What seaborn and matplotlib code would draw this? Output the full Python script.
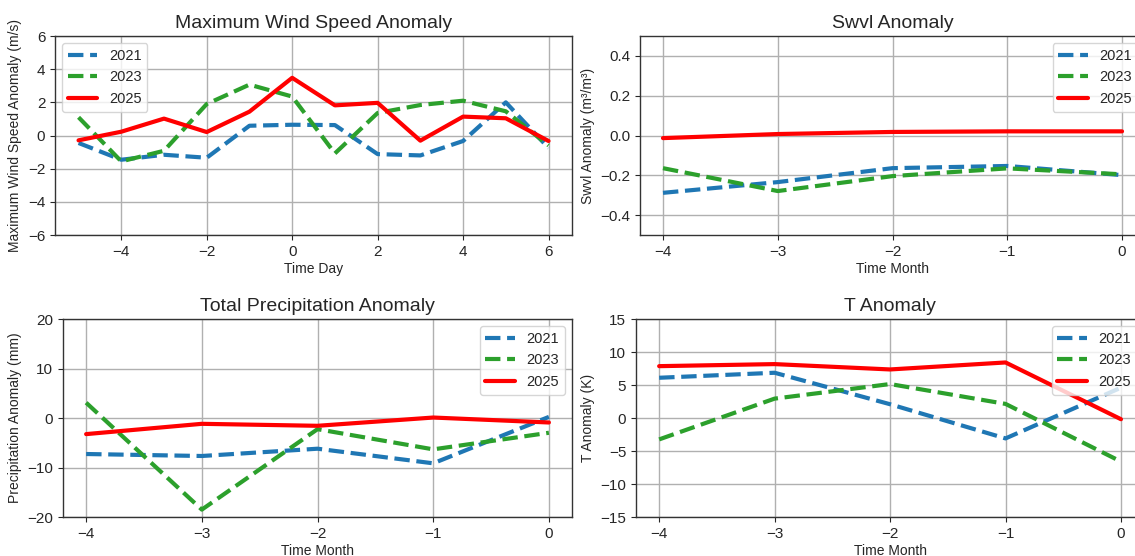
import numpy as np
import pandas as pd
import seaborn as sns
import matplotlib.pyplot as plt

# x axes
days = [-5, -4, -3, -2, -1, 0, 1, 2, 3, 4, 5, 6]
months = [-4, -3, -2, -1, 0]
years = ["2021", "2023", "2025"]

# Maximum wind speed anomaly (m/s), by day
wind_2021 = [-0.45, -1.46, -1.16, -1.34, 0.59, 0.65, 0.63, -1.12, -1.2, -0.33, 2.0, -0.75]
wind_2023 = [1.1, -1.56, -0.92, 1.9, 3.07, 2.35, -1.08, 1.36, 1.84, 2.1, 1.46, -0.6]
wind_2025 = [-0.29, 0.23, 1.02, 0.21, 1.44, 3.48, 1.82, 1.97, -0.31, 1.14, 1.04, -0.33]

# Swvl anomaly (m3/m3), by month
swvl_2021 = [-0.288, -0.234, -0.164, -0.153, -0.199]
swvl_2023 = [-0.164, -0.279, -0.204, -0.165, -0.195]
swvl_2025 = [-0.013, 0.0075, 0.018, 0.021, 0.021]

# Total precipitation anomaly (mm), by month
prec_2021 = [-7.27, -7.67, -6.2, -9.15, 0.23]
prec_2023 = [3.1, -18.5, -2.25, -6.33, -2.98]
prec_2025 = [-3.25, -1.17, -1.57, 0.1, -0.9]

# T anomaly (K), by month
t_2021 = [6.1, 6.86, 2.09, -3.09, 4.6]
t_2023 = [-3.24, 2.94, 5.15, 2.14, -6.6]
t_2025 = [7.86, 8.17, 7.36, 8.42, -0.18]

sns.set_style("ticks")
plt.rcParams['font.family'] = ['Liberation Sans', 'DejaVu Sans']
plt.rcParams['axes.edgecolor'] = '#333333'
plt.rcParams['xtick.major.size'] = 3.5
plt.rcParams['ytick.major.size'] = 3.5
plt.rcParams['axes.linewidth'] = 1.0

styles = {"2021": ("#1f77b4", "--"), "2023": ("#2ca02c", "--"), "2025": ("red", "-")}

fig = plt.figure(figsize=(11.35, 5.56), dpi=100)
ax1 = fig.add_axes([0.0485, 0.5773, 0.4555, 0.3579])
ax2 = fig.add_axes([0.5639, 0.5773, 0.4449, 0.3579])
ax3 = fig.add_axes([0.0555, 0.0701, 0.4485, 0.3561])
ax4 = fig.add_axes([0.5604, 0.0701, 0.4476, 0.3561])

panels = [
    (ax1, days, [wind_2021, wind_2023, wind_2025], "Maximum Wind Speed Anomaly",
     "Time Day", "Maximum Wind Speed Anomaly (m/s)", (-6, 6), np.arange(-6, 7, 2), "upper left"),
    (ax2, months, [swvl_2021, swvl_2023, swvl_2025], "Swvl Anomaly",
     "Time Month", "Swvl Anomaly (m³/m³)", (-0.5, 0.5), [-0.4, -0.2, 0.0, 0.2, 0.4], "upper right"),
    (ax3, months, [prec_2021, prec_2023, prec_2025], "Total Precipitation Anomaly",
     "Time Month", "Precipitation Anomaly (mm)", (-20, 20), np.arange(-20, 21, 10), "upper right"),
    (ax4, months, [t_2021, t_2023, t_2025], "T Anomaly",
     "Time Month", "T Anomaly (K)", (-15, 15), np.arange(-15, 16, 5), "upper right"),
]

for ax, xs, series, title, xlabel, ylabel, ylim, yticks, loc in panels:
    for yr, vals in zip(years, series):
        color, ls = styles[yr]
        df = pd.DataFrame({"x": xs, "y": vals})
        sns.lineplot(data=df, x="x", y="y", ax=ax, color=color, linestyle=ls,
                     linewidth=3, label=yr)
    ax.set_title(title, fontsize=14)
    ax.set_xlabel(xlabel, fontsize=10, labelpad=2)
    ax.set_ylabel(ylabel, fontsize=10)
    ax.set_ylim(*ylim)
    ax.set_yticks(yticks)
    if xs is months:
        ax.set_xticks(months)
    ax.tick_params(labelsize=11)
    ax.grid(True, color='#b0b0b0', linewidth=1)
    ax.legend(loc=loc, fontsize=10.5)

ax1.set_xticks([-4, -2, 0, 2, 4, 6])
ax2.set_yticks([-0.4, -0.2, 0.0, 0.2, 0.4])
ax2.set_yticklabels(["−0.4", "−0.2", "0.0", "0.2", "0.4"])

fig.savefig("out.png", dpi=100)
